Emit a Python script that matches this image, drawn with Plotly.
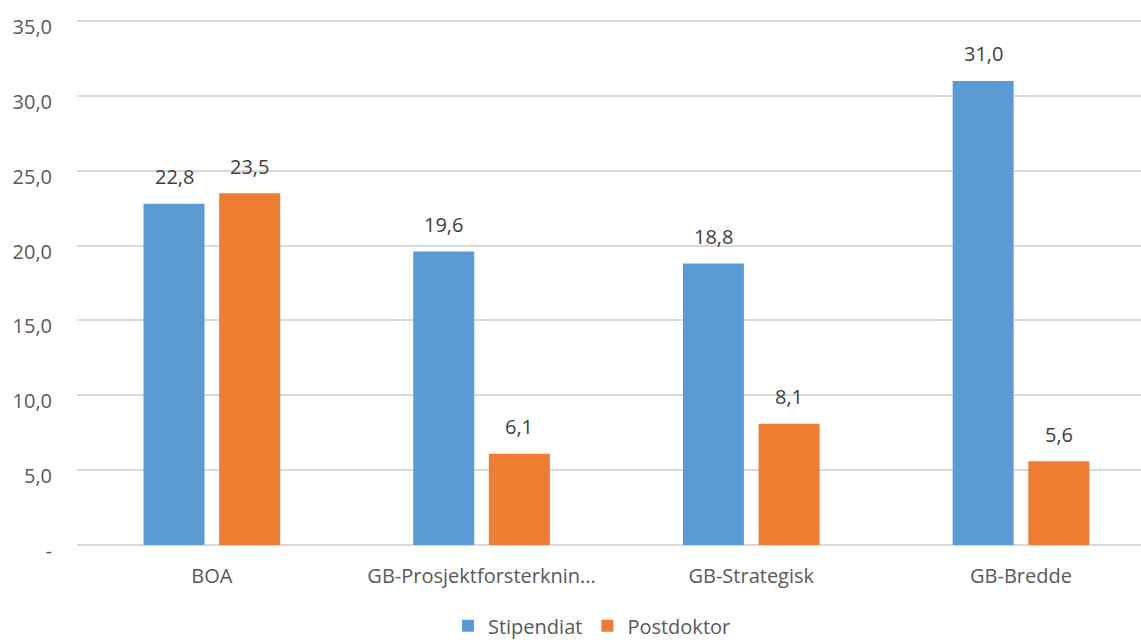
import plotly.graph_objects as go

categories = ["BOA", "GB-Prosjektforsterknin...", "GB-Strategisk", "GB-Bredde"]
stipendiat = [22.8, 19.6, 18.8, 31.0]
postdoktor = [23.5, 6.1, 8.1, 5.6]
series_names = ["Stipendiat", "Postdoktor"]
colors = ["#5B9BD5", "#ED7D31"]
y_tickvals = [0, 5, 10, 15, 20, 25, 30, 35]
y_ticktext = ["-", "5,0", "10,0", "15,0", "20,0", "25,0", "30,0", "35,0"]

FONT = "Open Sans"
fig = go.Figure()
for name, vals, col in zip(series_names, [stipendiat, postdoktor], colors):
    fig.add_trace(go.Bar(x=categories, y=vals, name=name, marker=dict(color=col, line=dict(width=0))))

def fmt(v):
    return f"{v:.1f}".replace(".", ",")

annotations = []
for vals, shift in [(stipendiat, -37.85), (postdoktor, 37.85)]:
    for c, v in zip(categories, vals):
        annotations.append(dict(x=c, y=v, xref="x", yref="y", text=fmt(v), showarrow=False,
                                xshift=shift, yshift=27, yanchor="middle",
                                font=dict(family=FONT, size=20, color="#404040")))

fig.update_layout(
    width=1141, height=642,
    margin=dict(l=77, r=0, t=20, b=97, autoexpand=False),
    paper_bgcolor="white", plot_bgcolor="white",
    barmode="group", bargap=0.439, bargroupgap=0.194,
    font=dict(family=FONT, size=20, color="#595959"),
    annotations=annotations,
    showlegend=True,
    legend=dict(orientation="h", x=0.484, xanchor="center", y=-0.154, yanchor="middle",
                bgcolor="rgba(0,0,0,0)", borderwidth=0,
                font=dict(family=FONT, size=20, color="#595959"), itemwidth=30, tracegroupgap=0),
    xaxis=dict(range=[-0.5, 3.445], showgrid=False, showline=False, zeroline=False, automargin=False,
               fixedrange=True,
               ticks="", ticklabelstandoff=17, tickfont=dict(family=FONT, size=20, color="#595959")),
    yaxis=dict(range=[0, 35.07], tickvals=y_tickvals, ticktext=y_ticktext, showgrid=True, automargin=False,
               fixedrange=True,
               gridcolor="#D9D9D9", gridwidth=1.5, zeroline=True, zerolinecolor="#D9D9D9", zerolinewidth=2,
               showline=False, ticks="", ticklabelstandoff=24, ticklabelshift=6,
               tickfont=dict(family=FONT, size=20, color="#595959")),
)
fig.write_html("out.html", config={"displayModeBar": False},
               post_script="document.body.style.margin='0';document.body.style.overflow='hidden';")
